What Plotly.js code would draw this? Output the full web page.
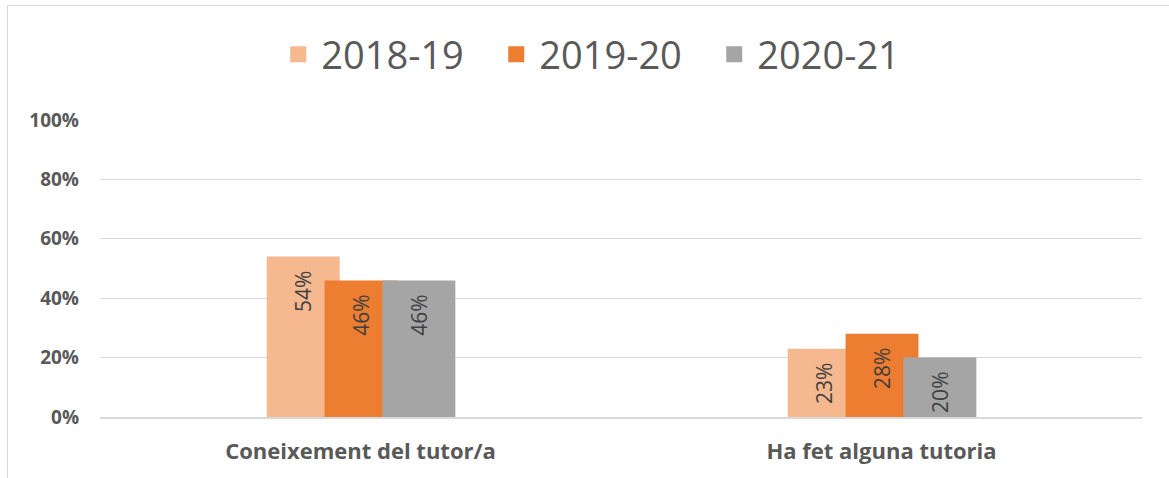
<!DOCTYPE html>
<html><head><meta charset="utf-8">
<script src="https://cdn.plot.ly/plotly-3.0.1.min.js"></script>
<style>body{margin:0;background:#fff;}#frame{position:absolute;left:7px;top:5px;width:1200px;height:500px;border:1px solid #d9d9d9;pointer-events:none;}#chart{position:absolute;left:0;top:0;width:1169px;height:478px;}</style>
</head><body>
<div id="chart"></div><div id="frame"></div>
<script>
const categories = ["Coneixement del tutor/a", "Ha fet alguna tutoria"];
const seriesNames = ["2018-19", "2019-20", "2020-21"];
const v2018 = [0.54, 0.23];
const v2019 = [0.46, 0.28];
const v2020 = [0.46, 0.20];
const colors = ["#F5B88F", "#ED7D31", "#A5A5A5"];
const offsets = [-0.18, -0.069, 0.042];
const allVals = [v2018, v2019, v2020];
const traces = allVals.map((vals, i) => ({
  type: 'bar', name: seriesNames[i], x: categories, y: vals,
  marker: {color: colors[i]}, width: 0.14, offset: offsets[i],
  text: vals.map(v => Math.round(v*100) + '%\u00a0\u00a0'), textposition: 'inside',
  insidetextanchor: 'end', textangle: -90, constraintext: 'none',
  textfont: {family: 'Open Sans, sans-serif', size: 21, color: '#404040'},
  hoverinfo: 'none', showlegend: false
}));
// legend-only entries with larger square symbols
seriesNames.forEach((n, i) => traces.push({
  type: 'scatter', mode: 'markers', name: n, x: [null], y: [null],
  marker: {symbol: 'square', size: 24, color: colors[i]}, hoverinfo: 'none'
}));
const layout = {
  width: 1169, height: 478, barmode: 'overlay',
  margin: {l: 100, r: 27, t: 120, b: 61},
  paper_bgcolor: 'rgba(0,0,0,0)', plot_bgcolor: '#fff',
  showlegend: true,
  legend: {orientation: 'h', x: 0.482, xanchor: 'center', y: 1.22, yanchor: 'middle',
    font: {family: 'Open Sans, sans-serif', size: 38, color: '#595959'}, itemwidth: 36,
    entrywidth: 167, traceorder: 'normal'},
  xaxis: {type: 'category', range: [-0.5, 1.5], showgrid: false, zeroline: false,
    showline: true, linecolor: '#d9d9d9', linewidth: 2, ticks: '',
    tickfont: {family: 'Open Sans, sans-serif', size: 22, color: '#595959', weight: 'bold'},
    ticklabelstandoff: 14},
  yaxis: {range: [0, 1], dtick: 0.2, tickformat: '.0%', showgrid: true, gridcolor: '#d9d9d9', gridwidth: 1,
    zeroline: false, showline: false, ticks: '',
    tickfont: {family: 'Open Sans, sans-serif', size: 19, color: '#595959', weight: 'bold'},
    ticklabelstandoff: 20}
};
Plotly.newPlot('chart', traces, layout, {displayModeBar: false, staticPlot: true});
</script>
</body></html>
